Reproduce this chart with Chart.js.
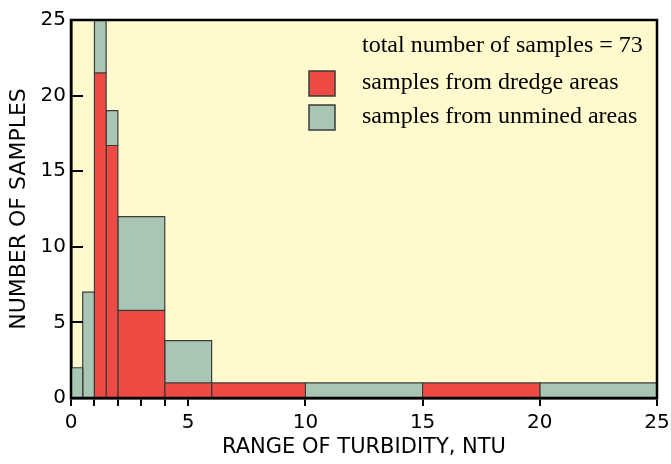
<!DOCTYPE html>
<html>
<head>
<meta charset="utf-8">
<script src="https://cdn.jsdelivr.net/npm/chart.js@4.4.0/dist/chart.umd.min.js"></script>
<style>
  html, body { margin: 0; padding: 0; background: #ffffff; }
  #wrap { width: 671px; height: 464px; }
</style>
</head>
<body>
<div id="wrap"><canvas id="turbidity"></canvas></div>
<script>
// bin edges along the turbidity axis (NTU)
const binEdges = [0, 0.5, 1, 1.5, 2, 4, 6, 10, 15, 20, 25];
// stacked heights per bin
const dredgeCounts = [0, 0, 21.5, 16.7, 5.8, 1, 1, 0, 1, 0];
const unminedCounts = [2, 7, 3.5, 2.3, 6.2, 2.8, 0, 1, 0, 1];

const xTickValues = [0, 1, 2, 3, 4, 5, 10, 15, 20, 25];
const xTickLabels = [0, 5, 10, 15, 20, 25];
const yTickValues = [0, 5, 10, 15, 20, 25];

const totalSamples = 73;
const seriesNames = ["samples from dredge areas", "samples from unmined areas"];

const RED = "#ef4b45";
const GREEN = "#a9c6b4";
const PLOT_BG = "#fffacd";
const EDGE = "#3b3b3b";

// one small line polygon per bin, filled down to its base value
function binDatasets(counts, bases, color) {
  const sets = [];
  counts.forEach((h, i) => {
    if (h <= 0) return;
    const x0 = binEdges[i], x1 = binEdges[i + 1];
    const b = bases[i], t = bases[i] + h;
    sets.push({
      data: [{ x: x0, y: b }, { x: x0, y: t }, { x: x1, y: t }, { x: x1, y: b }],
      borderColor: EDGE,
      borderWidth: 1.2,
      backgroundColor: color,
      fill: { value: b },
      pointRadius: 0,
      tension: 0,
    });
  });
  return sets;
}

const zeros = dredgeCounts.map(() => 0);
const datasets = [
  ...binDatasets(dredgeCounts, zeros, RED),
  ...binDatasets(unminedCounts, dredgeCounts, GREEN),
];

const framePlugin = {
  id: "frame",
  beforeDraw(chart) {
    const { ctx, chartArea: a } = chart;
    ctx.save();
    ctx.fillStyle = PLOT_BG;
    ctx.fillRect(a.left, a.top, a.right - a.left, a.bottom - a.top);
    ctx.restore();
  },
  afterDraw(chart) {
    const { ctx, chartArea: a } = chart;
    const y = chart.scales.y;
    ctx.save();
    ctx.strokeStyle = "#000";
    ctx.lineWidth = 2.5;
    ctx.strokeRect(a.left, a.top, a.right - a.left, a.bottom - a.top);
    // y ticks point into the plot
    ctx.lineWidth = 2;
    yTickValues.forEach((v) => {
      const py = Math.round(y.getPixelForValue(v));
      ctx.beginPath();
      ctx.moveTo(a.left, py);
      ctx.lineTo(a.left + 12, py);
      ctx.stroke();
    });

    // legend
    ctx.fillStyle = "#000";
    ctx.font = "24px 'Liberation Serif'";
    ctx.textBaseline = "middle";
    ctx.textAlign = "left";
    ctx.fillText("total number of samples = " + totalSamples, 362, 46);
    [RED, GREEN].forEach((c, i) => {
      const top = 71 + i * 34;
      ctx.fillStyle = c;
      ctx.fillRect(309, top, 26, 25);
      ctx.strokeStyle = EDGE;
      ctx.lineWidth = 1.5;
      ctx.strokeRect(309, top, 26, 25);
      ctx.fillStyle = "#000";
      ctx.fillText(seriesNames[i], 362, top + 12);
    });
    ctx.restore();
  },
};

new Chart(document.getElementById("turbidity"), {
  type: "line",
  data: { datasets },
  options: {
    responsive: true,
    maintainAspectRatio: false,
    animation: false,
    events: [],
    layout: { padding: { top: 20, right: 0, left: 0, bottom: 0 } },
    plugins: {
      legend: { display: false },
      tooltip: { enabled: false },
    },
    scales: {
      x: {
        type: "linear",
        min: 0,
        max: 25,
        afterBuildTicks: (scale) => {
          scale.ticks = xTickValues.map((v) => ({ value: v }));
        },
        afterFit: (scale) => {
          scale.height = 66;
          scale.paddingLeft = 0;
          scale.paddingRight = 14;
        },
        ticks: {
          autoSkip: false,
          maxRotation: 0,
          padding: 5,
          color: "#000",
          font: { family: "'DejaVu Sans'", size: 20 },
          callback: (v) => (xTickLabels.includes(v) ? String(v) : ""),
        },
        grid: {
          drawOnChartArea: false,
          drawTicks: true,
          tickLength: 8,
          color: "#000",
          lineWidth: 2,
        },
        border: { color: "#000", width: 2.5 },
        title: {
          display: true,
          text: "RANGE OF TURBIDITY, NTU",
          color: "#000",
          font: { family: "'DejaVu Sans'", size: 21 },
          padding: { top: 0, bottom: 4 },
        },
      },
      y: {
        type: "linear",
        min: 0,
        max: 25,
        afterBuildTicks: (scale) => {
          scale.ticks = yTickValues.map((v) => ({ value: v }));
        },
        afterFit: (scale) => {
          scale.width = 71;
        },
        ticks: {
          padding: 5,
          color: "#000",
          font: { family: "'DejaVu Sans'", size: 20 },
        },
        grid: { drawOnChartArea: false, drawTicks: false },
        border: { color: "#000", width: 2.5 },
        title: {
          display: true,
          text: "NUMBER OF SAMPLES",
          color: "#000",
          font: { family: "'DejaVu Sans'", size: 22 },
          padding: { top: 6, bottom: 0 },
        },
      },
    },
  },
  plugins: [framePlugin],
});
</script>
</body>
</html>
